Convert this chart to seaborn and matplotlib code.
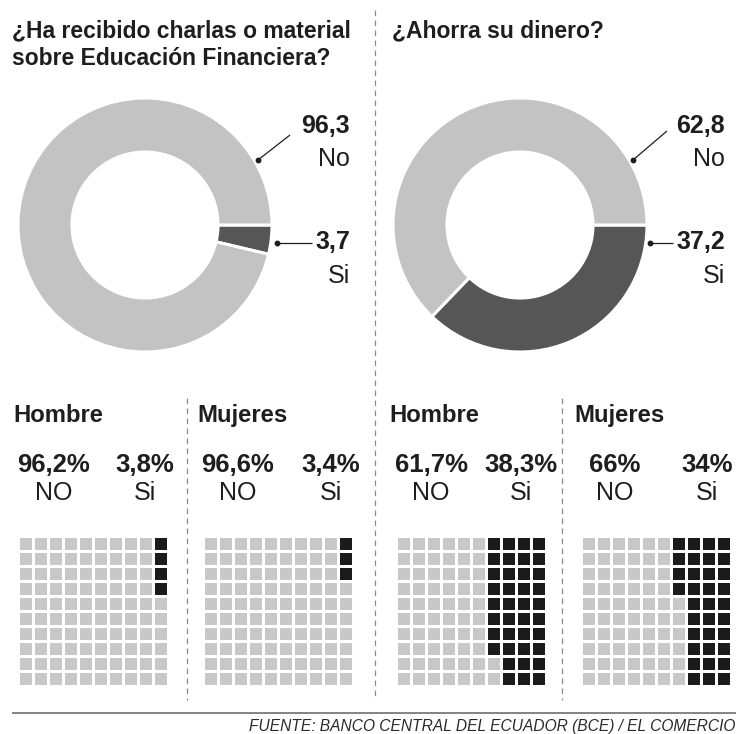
import matplotlib
matplotlib.use("Agg")
import matplotlib.pyplot as plt
from matplotlib.colors import ListedColormap
from matplotlib import font_manager
import numpy as np
import pandas as pd
import seaborn as sns

sns.set_theme(style="white")
plt.rcParams["font.family"] = ["Liberation Sans", "DejaVu Sans"]

# ---- data -------------------------------------------------------------
question_lines = [
    ["¿Ha recibido charlas o material", "sobre Educación Financiera?"],
    ["¿Ahorra su dinero?"],
]
answer_labels = ["No", "Si"]
no_total = [96.3, 62.8]
si_total = [3.7, 37.2]

group_names = ["Hombre", "Mujeres"]
group_answer_labels = ["NO", "Si"]
no_by_group = [[96.2, 96.6], [61.7, 66.0]]
si_by_group = [[3.8, 3.4], [38.3, 34.0]]

source_text = "FUENTE: BANCO CENTRAL DEL ECUADOR (BCE) / EL COMERCIO"

# ---- styling ----------------------------------------------------------
W, H = 736, 734
INK = "#1e1e1e"
DONUT_LIGHT = "#c3c3c3"
DONUT_DARK = "#565656"
CELL_LIGHT = "#c8c8c8"
CELL_DARK = "#1b1b1b"
RULE = "#7a7a7a"


def fmt(v):
    s = f"{v:.1f}".replace(".", ",")
    return s[:-2] if s.endswith(",0") else s


fig = plt.figure(figsize=(W / 100, H / 100), dpi=100)
fig.patch.set_facecolor("white")


def px_axes(x0, y0, w, h):
    """Axes placed by pixel box (top-left origin)."""
    return fig.add_axes([x0 / W, (H - y0 - h) / H, w / W, h / H])


# ---- donuts -----------------------------------------------------------
R = 127.0
PAD = 131.0
donut_centers = [(145, 225), (520, 225)]
for (cx, cy), no_v, si_v in zip(donut_centers, no_total, si_total):
    ax = px_axes(cx - PAD, cy - PAD, 2 * PAD, 2 * PAD)
    ax.pie([si_v, no_v], startangle=0, counterclock=False, radius=1.0,
           colors=[DONUT_DARK, DONUT_LIGHT],
           wedgeprops=dict(width=0.425, edgecolor="white", linewidth=2.2))
    ax.set_xlim(-PAD / R, PAD / R)
    ax.set_ylim(-PAD / R, PAD / R)
    ax.set_aspect("equal")
    ax.axis("off")

# ---- waffles ----------------------------------------------------------
cmap = ListedColormap([CELL_LIGHT, CELL_DARK])
waffle_x = [[19, 204], [397, 582]]
GRID_TOP = 537
PITCH = 15.0


def waffle_matrix(count):
    m = np.zeros((10, 10))
    for k in range(count):
        m[k % 10, 9 - k // 10] = 1
    return pd.DataFrame(m)


for q in range(2):
    for g in range(2):
        n_dark = int(round(si_by_group[q][g]))
        ax = px_axes(waffle_x[q][g] - 1.5, GRID_TOP - 1.5, 10 * PITCH, 10 * PITCH)
        sns.heatmap(waffle_matrix(n_dark), ax=ax, cmap=cmap, vmin=0, vmax=1,
                    cbar=False, linewidths=2.0, linecolor="white",
                    xticklabels=False, yticklabels=False)
        ax.axis("off")

# ---- overlay for text and rules --------------------------------------
ov = fig.add_axes([0, 0, 1, 1], zorder=5)
ov.set_xlim(0, W)
ov.set_ylim(H, 0)
ov.axis("off")
ov.patch.set_alpha(0)

# titles
title_x = [12, 392]
for x, lines in zip(title_x, question_lines):
    for i, line in enumerate(lines):
        ov.text(x, 37 + 28 * i, line, fontsize=16.5, fontweight="bold",
                color=INK, ha="left", va="baseline")

# donut value labels with leader lines
label_right = [350, 725]
no_leader = [((258, 160), (290, 135)), ((633, 160), (667, 131))]
si_leader = [((277, 243), (312, 243)), ((650, 243), (673, 243))]
for q in range(2):
    xr = label_right[q]
    ov.text(xr, 133, fmt(no_total[q]), fontsize=18, fontweight="bold",
            color=INK, ha="right", va="baseline")
    ov.text(xr, 166, answer_labels[0], fontsize=18, color=INK,
            ha="right", va="baseline")
    ov.text(xr, 249, fmt(si_total[q]), fontsize=18, fontweight="bold",
            color=INK, ha="right", va="baseline")
    ov.text(xr, 283, answer_labels[1], fontsize=18, color=INK,
            ha="right", va="baseline")
    for (p0, p1) in (no_leader[q], si_leader[q]):
        ov.plot([p0[0], p1[0]], [p0[1], p1[1]], color=INK, lw=0.9,
                solid_capstyle="butt")
        ov.plot([p0[0]], [p0[1]], "o", color=INK, markersize=3.2)

# group headers and percentages
header_x = [[13, 197], [389, 574]]
pct_cx = [[[54, 145], [238, 331]], [[431, 521], [615, 707]]]
for q in range(2):
    for g in range(2):
        ov.text(header_x[q][g], 422, group_names[g], fontsize=17.2,
                fontweight="bold", color=INK, ha="left", va="baseline")
        vals = [no_by_group[q][g], si_by_group[q][g]]
        for j in range(2):
            cx = pct_cx[q][g][j]
            ov.text(cx, 472, fmt(vals[j]) + "%", fontsize=18.5,
                    fontweight="bold", color=INK, ha="center", va="baseline")
            ov.text(cx, 500, group_answer_labels[j], fontsize=18,
                    color=INK, ha="center", va="baseline")

# dashed dividers
dash = dict(color="#8a8a8a", lw=0.9, dashes=(4.5, 3.5))
ov.plot([375, 375], [10, 700], **dash)
ov.plot([187, 187], [398, 700], **dash)
ov.plot([562, 562], [398, 700], **dash)

# bottom rule and source
ov.plot([12, W], [713, 713], color=RULE, lw=1.3, solid_capstyle="butt")
names = {f.name for f in font_manager.fontManager.ttflist}
if "Liberation Sans Narrow" in names:
    ov.text(735, 731, source_text, fontsize=13.3, style="italic",
            family="Liberation Sans Narrow", color="#2a2a2a",
            ha="right", va="baseline")
else:
    ov.text(735, 731, source_text, fontsize=11.2, style="italic",
            color="#2a2a2a", ha="right", va="baseline")

fig.savefig("out.png", dpi=100, facecolor="white")
